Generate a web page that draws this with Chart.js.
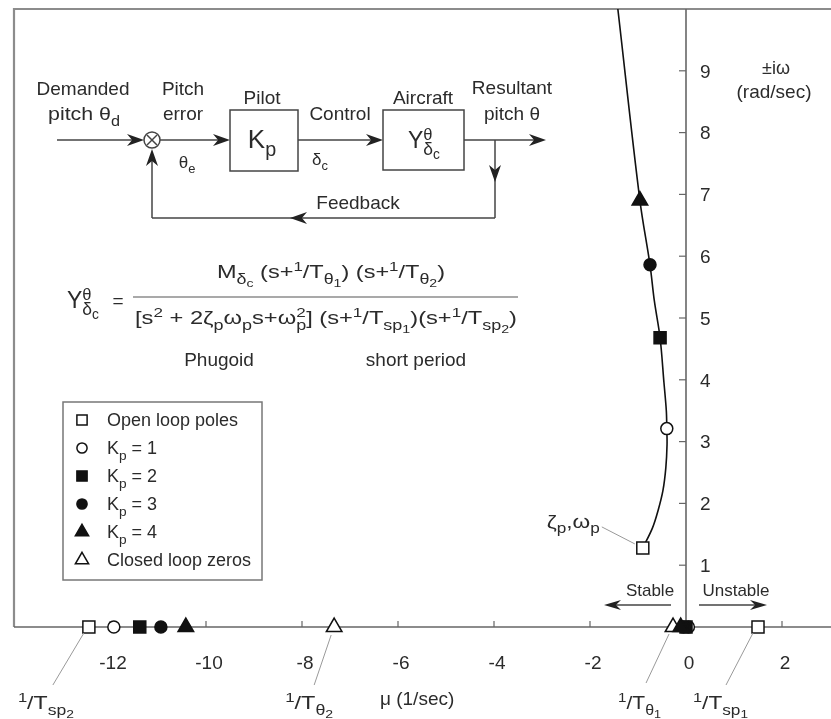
<!DOCTYPE html>
<html>
<head>
<meta charset="utf-8">
<script src="https://cdn.jsdelivr.net/npm/chart.js@4.4.1/dist/chart.umd.min.js"></script>
<style>
  html, body { margin: 0; padding: 0; background: #fff; }
  canvas { display: block; }
</style>
</head>
<body>
<canvas id="chart" width="831" height="719"></canvas>
<script>
"use strict";

// Upper branch of the pitch root locus (real part, imaginary part)
const locusRe = [-0.90, -0.70, -0.58, -0.48, -0.42, -0.395, -0.40, -0.41, -0.46, -0.54, -0.66, -0.75, -0.96, -1.42];
const locusIm = [1.28, 1.60, 1.89, 2.21, 2.58, 2.95, 3.21, 3.5, 3.96, 4.68, 5.28, 5.86, 6.9, 10];

// Open loop poles: 1/Tsp2, phugoid, 1/Tsp1
const openPoleRe = [-12.44, -0.90, 1.5];
const openPoleIm = [0, 1.28, 0];

// Closed loop poles for each pilot gain
const kp1Re = [-11.92, -0.40, 0.05];
const kp1Im = [0, 3.21, 0];
const kp2Re = [-11.38, -0.54, 0.0];
const kp2Im = [0, 4.68, 0];
const kp3Re = [-10.94, -0.75, -0.05];
const kp3Im = [0, 5.86, 0];
const kp4Re = [-10.42, -0.96, -0.11];
const kp4Im = [0, 6.9, 0];

// Closed loop zeros: 1/Ttheta2, 1/Ttheta1
const zeroRe = [-7.33, -0.27];
const zeroIm = [0, 0];

const xTickValues = [-12, -10, -8, -6, -4, -2, 0, 2];
const yTickValues = [1, 2, 3, 4, 5, 6, 7, 8, 9];

const legendLabels = [
  [["Open loop poles", "n"]],
  [["K", "n"], ["p", "sub"], [" = 1", "n"]],
  [["K", "n"], ["p", "sub"], [" = 2", "n"]],
  [["K", "n"], ["p", "sub"], [" = 3", "n"]],
  [["K", "n"], ["p", "sub"], [" = 4", "n"]],
  [["Closed loop zeros", "n"]],
];

const FONT = "'Liberation Sans', Arial, Helvetica, sans-serif";
const INK = "#2b2b2b";

const pts = (xs, ys) => xs.map((x, i) => ({ x: x, y: ys[i] }));

// marker look, shared by datasets and the legend
const markers = [
  { pointStyle: "rect", radius: 8.5, fill: "#fff" },
  { pointStyle: "circle", radius: 6, fill: "#fff" },
  { pointStyle: "rect", radius: 8.5, fill: "#111" },
  { pointStyle: "circle", radius: 6, fill: "#111" },
  { pointStyle: "triangle", radius: 9, fill: "#111" },
  { pointStyle: "triangle", radius: 9, fill: "#fff" },
];

const markerSet = (data, m, order) => ({
  data: data,
  showLine: false,
  pointStyle: m.pointStyle,
  pointRadius: m.radius,
  pointBackgroundColor: m.fill,
  pointBorderColor: "#111",
  pointBorderWidth: 1.5,
  clip: false,
  order: order,
});

// text with sub/superscripts: parts are [text, level]
const LEVELS = { n: [1, 0], sup: [0.72, -0.38], sub: [0.76, 0.3], sub2: [0.6, 0.48] };

// width: optional total width, the text is stretched sideways to fill it
function rich(ctx, parts, x, y, size, align, width) {
  let cx = 0, mark = 0, maxX = 0;
  for (const [t, l] of parts) {
    if (l === "mark") { mark = cx; continue; }
    if (l === "reset") { maxX = Math.max(maxX, cx); cx = mark; continue; }
    ctx.font = `${size * LEVELS[l][0]}px ${FONT}`;
    cx += ctx.measureText(t).width;
  }
  const natural = Math.max(cx, maxX);
  const w = width || natural;
  const start = align === "center" ? x - w / 2 : align === "right" ? x - w : x;
  const base = y + size * 0.36;
  ctx.save();
  ctx.translate(start, 0);
  ctx.scale(w / natural, 1);
  ctx.textAlign = "left";
  ctx.textBaseline = "alphabetic";
  cx = 0; mark = 0;
  for (const [t, l] of parts) {
    if (l === "mark") { mark = cx; continue; }
    if (l === "reset") { cx = mark; continue; }
    ctx.font = `${size * LEVELS[l][0]}px ${FONT}`;
    ctx.fillText(t, cx, base + LEVELS[l][1] * size);
    cx += ctx.measureText(t).width;
  }
  ctx.restore();
  return w;
}

function line(ctx, x1, y1, x2, y2) {
  ctx.beginPath();
  ctx.moveTo(x1, y1);
  ctx.lineTo(x2, y2);
  ctx.stroke();
}

// barbed arrow head with its tip at (x, y)
function head(ctx, x, y, angle, len = 17, half = 6) {
  ctx.save();
  ctx.translate(x, y);
  ctx.rotate(angle);
  ctx.beginPath();
  ctx.moveTo(0, 0);
  ctx.lineTo(-len, -half);
  ctx.lineTo(-len * 0.7, 0);
  ctx.lineTo(-len, half);
  ctx.closePath();
  ctx.fill();
  ctx.restore();
}

function drawMarker(ctx, m, x, y) {
  ctx.fillStyle = m.fill;
  ctx.strokeStyle = "#111";
  ctx.lineWidth = 1.5;
  if (Chart.helpers && Chart.helpers.drawPoint) {
    Chart.helpers.drawPoint(ctx, { pointStyle: m.pointStyle, radius: m.radius * 0.85, rotation: 0, borderWidth: 1.5 }, x, y);
  }
}

// annotations hanging off marks: offsets in pixels from the mark
const notes = [
  { re: openPoleRe[0], im: 0, from: [-5, 6], to: [-36, 58], at: [-71, 75], w: 56,
    text: [["1", "sup"], ["/", "n"], ["T", "n"], ["sp", "sub"], ["2", "sub2"]] },
  { re: zeroRe[0], im: 0, from: [-3, 8], to: [-20, 58], at: [-49, 75], w: 48,
    text: [["1", "sup"], ["/", "n"], ["T", "n"], ["θ", "sub"], ["2", "sub2"]] },
  { re: zeroRe[1], im: 0, from: [-4, 7], to: [-27, 56], at: [-55, 75], w: 43,
    text: [["1", "sup"], ["/", "n"], ["T", "n"], ["θ", "sub"], ["1", "sub2"]] },
  { re: openPoleRe[2], im: 0, from: [-5, 6], to: [-32, 58], at: [-65, 75], w: 55,
    text: [["1", "sup"], ["/", "n"], ["T", "n"], ["sp", "sub"], ["1", "sub2"]] },
  { re: openPoleRe[1], im: openPoleIm[1], from: [-8, -4], to: [-41, -21], at: [-96, -27], w: 53,
    text: [["ζ", "n"], ["p", "sub"], [",ω", "n"], ["p", "sub"]] },
];

function drawDiagram(ctx) {
  ctx.strokeStyle = "#444";
  ctx.fillStyle = "#222";
  ctx.lineWidth = 1.5;

  // forward path
  line(ctx, 57, 140, 140, 140);
  head(ctx, 144, 140, 0);
  ctx.beginPath();
  ctx.arc(152, 140, 8, 0, Math.PI * 2);
  ctx.stroke();
  line(ctx, 147, 135, 157, 145);
  line(ctx, 157, 135, 147, 145);
  line(ctx, 160, 140, 226, 140);
  head(ctx, 230, 140, 0);
  ctx.strokeRect(230, 110, 68, 61);
  line(ctx, 298, 140, 380, 140);
  head(ctx, 383, 140, 0);
  ctx.strokeRect(383, 110, 81, 60);
  line(ctx, 464, 140, 542, 140);
  head(ctx, 546, 140, 0);

  // feedback loop
  line(ctx, 495, 140, 495, 218);
  head(ctx, 495, 182, Math.PI / 2);
  line(ctx, 495, 218, 152, 218);
  head(ctx, 290, 218, Math.PI);
  line(ctx, 152, 218, 152, 152);
  head(ctx, 152, 149, -Math.PI / 2);

  ctx.fillStyle = INK;
  const s = 19;
  rich(ctx, [["Demanded", "n"]], 83, 88, s, "center");
  rich(ctx, [["pitch θ", "n"], ["d", "sub"]], 84, 113, s, "center", 72);
  rich(ctx, [["Pitch", "n"]], 183, 88, s, "center");
  rich(ctx, [["error", "n"]], 183, 113, s, "center");
  rich(ctx, [["θ", "n"], ["e", "sub"]], 187, 162, 17, "center");
  rich(ctx, [["Pilot", "n"]], 262, 97, s, "center");
  rich(ctx, [["K", "n"], ["p", "sub"]], 262, 139, 26, "center");
  rich(ctx, [["Control", "n"]], 340, 113, s, "center");
  rich(ctx, [["δ", "n"], ["c", "sub"]], 320, 159, 17, "center");
  rich(ctx, [["Aircraft", "n"]], 423, 97, s, "center");
  rich(ctx, [["Y", "n"], ["", "mark"], ["θ", "sup"], ["", "reset"], ["δ", "sub"], ["c", "sub2"]], 424, 140, 23, "center");
  rich(ctx, [["Resultant", "n"]], 512, 87, s, "center");
  rich(ctx, [["pitch θ", "n"]], 512, 113, s, "center");
  rich(ctx, [["Feedback", "n"]], 358, 202, s, "center");
}

function drawFormula(ctx) {
  ctx.fillStyle = INK;
  ctx.strokeStyle = "#555";
  ctx.lineWidth = 1.2;
  rich(ctx, [["Y", "n"], ["", "mark"], ["θ", "sup"], ["", "reset"], ["δ", "sub"], ["c", "sub2"]], 67, 300, 23, "left");
  rich(ctx, [["=", "n"]], 118, 300, 19, "center");
  line(ctx, 133, 297, 518, 297);
  rich(ctx, [["M", "n"], ["δ", "sub"], ["c", "sub2"], [" (s+", "n"], ["1", "sup"], ["/", "n"], ["T", "n"], ["θ", "sub"], ["1", "sub2"],
             [") (s+", "n"], ["1", "sup"], ["/", "n"], ["T", "n"], ["θ", "sub"], ["2", "sub2"], [")", "n"]], 331, 271, 19, "center", 228);
  rich(ctx, [["[s", "n"], ["2", "sup"], [" + 2ζ", "n"], ["p", "sub"], ["ω", "n"], ["p", "sub"], ["s+ω", "n"], ["", "mark"], ["2", "sup"], ["", "reset"], ["p", "sub"],
             ["] (s+", "n"], ["1", "sup"], ["/", "n"], ["T", "n"], ["sp", "sub"], ["1", "sub2"],
             [")(s+", "n"], ["1", "sup"], ["/", "n"], ["T", "n"], ["sp", "sub"], ["2", "sub2"], [")", "n"]], 326, 317, 19, "center", 382);
  rich(ctx, [["Phugoid", "n"]], 219, 359, 19, "center");
  rich(ctx, [["short period", "n"]], 416, 359, 19, "center");
}

function drawLegend(ctx) {
  ctx.strokeStyle = "#777";
  ctx.lineWidth = 1.5;
  ctx.fillStyle = "#fff";
  ctx.fillRect(63, 402, 199, 178);
  ctx.strokeRect(63, 402, 199, 178);
  legendLabels.forEach((label, i) => {
    const yy = 420 + i * 28;
    drawMarker(ctx, markers[i], 82, yy);
    ctx.fillStyle = INK;
    rich(ctx, label, 107, yy, 18, "left");
  });
}

const decor = {
  id: "decor",
  beforeDatasetsDraw(chart) {
    const { ctx, chartArea: a, scales: { x, y } } = chart;
    const x0 = x.getPixelForValue(0);
    const y0 = y.getPixelForValue(0);
    ctx.save();
    // frame
    ctx.strokeStyle = "#8c8c8c";
    ctx.lineWidth = 2.2;
    ctx.beginPath();
    ctx.moveTo(a.left, y0);
    ctx.lineTo(a.left, a.top);
    ctx.lineTo(chart.width, a.top);
    ctx.stroke();
    // axes
    ctx.strokeStyle = "#666";
    ctx.lineWidth = 1.6;
    line(ctx, a.left, y0, chart.width, y0);
    line(ctx, x0, y0, x0, a.top);
    ctx.lineWidth = 1.2;
    ctx.fillStyle = INK;
    for (const t of x.ticks) {
      const px = x.getPixelForValue(t.value);
      if (t.value !== 0) line(ctx, px, y0, px, y0 - 6);
      rich(ctx, [[String(t.value), "n"]], px + 3, 662, 19, "center");
    }
    for (const t of y.ticks) {
      const py = y.getPixelForValue(t.value);
      line(ctx, x0, py, x0 - 7, py);
      rich(ctx, [[String(t.value), "n"]], x0 + 14, py, 19, "left");
    }
    ctx.restore();
  },
  afterDatasetsDraw(chart) {
    const { ctx, scales: { x, y } } = chart;
    const x0 = x.getPixelForValue(0);
    ctx.save();

    // axis titles
    ctx.fillStyle = INK;
    rich(ctx, [["μ (1/sec)", "n"]], 380, 698, 19, "left");
    rich(ctx, [["±iω", "n"]], 776, 68, 18, "center");
    rich(ctx, [["(rad/sec)", "n"]], 774, 91, 19, "center");

    // stable / unstable
    ctx.strokeStyle = "#444";
    ctx.fillStyle = "#222";
    ctx.lineWidth = 1.5;
    line(ctx, x0 - 15, 605, x0 - 75, 605);
    head(ctx, x0 - 82, 605, Math.PI, 17, 5);
    line(ctx, x0 + 13, 605, x0 + 74, 605);
    head(ctx, x0 + 81, 605, 0, 17, 5);
    ctx.fillStyle = INK;
    rich(ctx, [["Stable", "n"]], x0 - 36, 590, 17, "center");
    rich(ctx, [["Unstable", "n"]], x0 + 50, 590, 17, "center");

    // leader lines and labels
    for (const n of notes) {
      const px = x.getPixelForValue(n.re);
      const py = y.getPixelForValue(n.im);
      ctx.strokeStyle = "#999";
      ctx.lineWidth = 1;
      line(ctx, px + n.from[0], py + n.from[1], px + n.to[0], py + n.to[1]);
      ctx.fillStyle = INK;
      rich(ctx, n.text, px + n.at[0], py + n.at[1], 19, "left", n.w);
    }

    drawDiagram(ctx);
    drawFormula(ctx);
    drawLegend(ctx);
    ctx.restore();
  },
};

const canvas = document.querySelector("#chart");
new Chart(canvas, {
  type: "scatter",
  data: {
    datasets: [
      {
        data: pts(locusRe, locusIm),
        showLine: true,
        borderColor: "#111",
        borderWidth: 1.6,
        pointRadius: 0,
        tension: 0.35,
        order: 10,
      },
      markerSet(pts(openPoleRe, openPoleIm), markers[0], 7),
      markerSet(pts(kp1Re, kp1Im), markers[1], 6),
      markerSet(pts(zeroRe, zeroIm), markers[5], 5),
      markerSet(pts(kp2Re, kp2Im), markers[2], 4),
      markerSet(pts(kp3Re, kp3Im), markers[3], 3),
      markerSet(pts(kp4Re, kp4Im), markers[4], 2),
    ],
  },
  options: {
    responsive: false,
    animation: false,
    layout: { autoPadding: false, padding: { left: 14, right: 1, top: 9, bottom: 92 } },
    scales: {
      x: {
        type: "linear", min: -14, max: 3, display: false,
        afterBuildTicks: (s) => { s.ticks = xTickValues.map((v) => ({ value: v })); },
      },
      y: {
        type: "linear", min: 0, max: 10, display: false,
        afterBuildTicks: (s) => { s.ticks = yTickValues.map((v) => ({ value: v })); },
      },
    },
    plugins: { legend: { display: false }, tooltip: { enabled: false } },
  },
  plugins: [decor],
});
</script>
</body>
</html>
